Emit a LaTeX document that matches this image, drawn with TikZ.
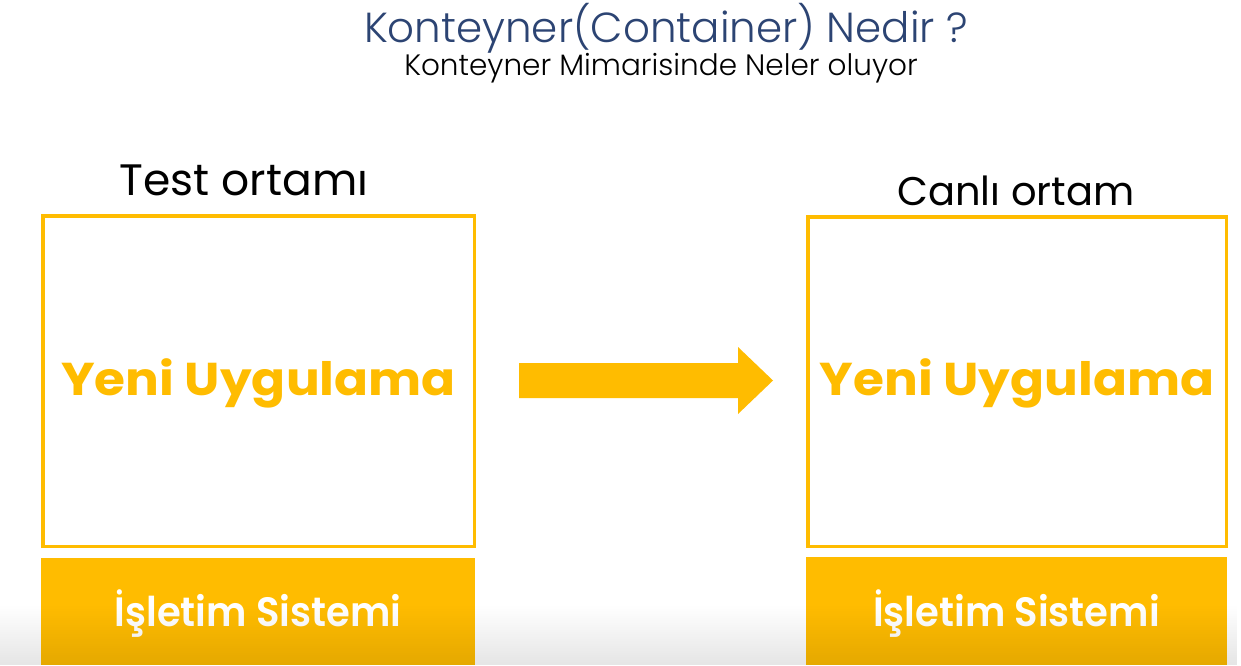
\documentclass[tikz,border=0pt]{standalone}
\usepackage{fontspec}
\setmainfont{Poppins}
\newfontfamily\headfont{Poppins Light}
\newfontfamily\handfont{Poppins Light}
\newfontfamily\boldfont{Poppins Bold}
\newfontfamily\semifont{Poppins SemiBold}
\usetikzlibrary{fadings}
\definecolor{gold}{HTML}{FFBC00}
\definecolor{navy}{HTML}{2C4473}
\tikzset{
  stage/.style={draw=gold, line width=3.5pt, fill=white, inner sep=0pt},
  osbox/.style={fill=gold, inner sep=0pt},
  applabel/.style={text=gold, font=\boldfont\fontsize{46}{46}\selectfont, anchor=base, inner sep=0pt, xscale=1.09},
  oslabel/.style={text=white, font=\semifont\fontsize{41}{41}\selectfont, anchor=base, inner sep=0pt, xscale=0.94},
  envlabel/.style={text=black, font=\handfont, anchor=base, inner sep=0pt},
}
\begin{document}
\begin{tikzpicture}[x=1pt, y=-1pt]
  \useasboundingbox[fill=white] (0,0) rectangle (1241,665);

  % headings
  \node[text=navy, font=\headfont\fontsize{42}{42}\selectfont, anchor=base, inner sep=0pt]
    (title) at (666,42) {Konteyner(Container) Nedir ?};
  \node[text=black, font=\handfont\fontsize{29.5}{29.5}\selectfont, anchor=base, inner sep=0pt]
    (subtitle) at (661,75) {Konteyner Mimarisinde Neler oluyor};

  % test environment
  \node[envlabel, font=\fontsize{44}{44}\selectfont] (testlbl) at (244,195) {Test ortamı};
  \node[stage, minimum width=431.5pt, minimum height=330.5pt] (testbox) at (258.5,381) {};
  \node[applabel] (testapp) at (258.5,395) {Yeni Uygulama};
  \node[osbox, minimum width=434pt, minimum height=107pt] (testos) at (258,611.5) {};
  \node[oslabel] (testoslbl) at (258,626) {İşletim Sistemi};

  % live environment
  \node[envlabel, font=\fontsize{40}{40}\selectfont] (livelbl) at (1016,205) {Canlı ortam};
  \node[stage, minimum width=418.5pt, minimum height=329.5pt] (livebox) at (1017,381.5) {};
  \node[applabel] (liveapp) at (1017,395) {Yeni Uygulama};
  \node[osbox, minimum width=421pt, minimum height=108pt] (liveos) at (1016.5,611) {};
  \node[oslabel] (liveoslbl) at (1016.5,626) {İşletim Sistemi};

  % block arrow between the two environments
  \fill[gold] (519,363) -- (738,363) -- (738,347) -- (773,380.5) -- (738,414)
    -- (738,398) -- (519,398) -- cycle;

  % soft shadow along the bottom edge
  \fill[black, opacity=0.1, path fading=north] (0,605) rectangle (1241,665);
\end{tikzpicture}
\end{document}
